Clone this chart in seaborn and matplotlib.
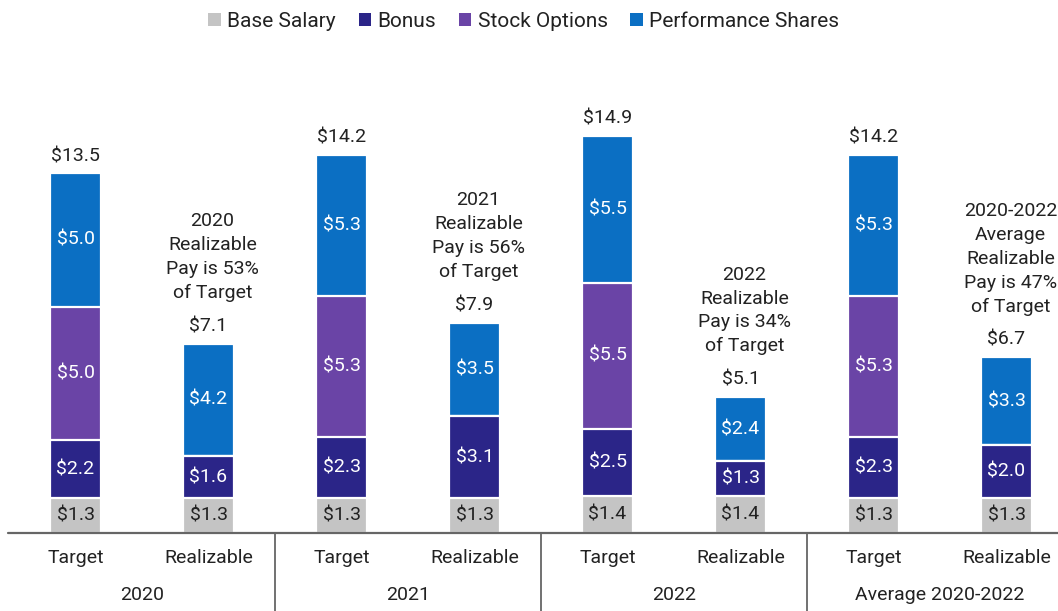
import matplotlib
matplotlib.use("Agg")
import matplotlib.pyplot as plt
import seaborn as sns
import pandas as pd
import numpy as np
from matplotlib.patches import Patch

sns.set_theme(style="white")
plt.rcParams["font.family"] = ["Roboto", "DejaVu Sans"]

# Compensation components ($M) per bar
bars = ["2020 Target", "2020 Realizable", "2021 Target", "2021 Realizable",
        "2022 Target", "2022 Realizable", "Avg Target", "Avg Realizable"]
base_salary = [1.3, 1.3, 1.3, 1.3, 1.4, 1.4, 1.3, 1.3]
bonus = [2.2, 1.6, 2.3, 3.1, 2.5, 1.3, 2.3, 2.0]
stock_options = [5.0, 0.0, 5.3, 0.0, 5.5, 0.0, 5.3, 0.0]
performance_shares = [5.0, 4.2, 5.3, 3.5, 5.5, 2.4, 5.3, 3.3]
totals = [13.5, 7.1, 14.2, 7.9, 14.9, 5.1, 14.2, 6.7]

bar_types = ["Target", "Realizable"] * 4
groups = ["2020", "2021", "2022", "Average 2020-2022"]
notes = {1: "2020\nRealizable\nPay is 53%\nof Target",
         3: "2021\nRealizable\nPay is 56%\nof Target",
         5: "2022\nRealizable\nPay is 34%\nof Target",
         7: "2020-2022\nAverage\nRealizable\nPay is 47%\nof Target"}

components = ["Base Salary", "Bonus", "Stock Options", "Performance Shares"]
colors = ["#c4c4c4", "#2b2588", "#6a44a6", "#0b6fc3"]
series = [base_salary, bonus, stock_options, performance_shares]

df = pd.DataFrame({"bar": bars})
cum = np.cumsum(np.array(series), axis=0)
for k, name in enumerate(components):
    df[name] = cum[k]

fig = plt.figure(figsize=(10.58, 6.11), dpi=100)
ax = fig.add_axes([0.0, 0.12766, 1.0, 0.80])

# Stack by overlaying cumulative heights, tallest first
for k in range(len(components) - 1, -1, -1):
    sns.barplot(data=df, x="bar", y=components[k], color=colors[k], width=0.39,
                edgecolor="white", linewidth=1.6, saturation=1, ax=ax, zorder=2)

ax.set_xlim(-0.568, 7.387)
ax.set_ylim(0, 18.35)
ax.set_xlabel("")
ax.set_ylabel("")
ax.set_xticks([])
ax.set_yticks([])
for s in ax.spines.values():
    s.set_visible(False)

txt_dark = "#222222"
fs = 14

# Segment value labels
for i in range(len(bars)):
    lower = 0.0
    for k, vals in enumerate(series):
        v = vals[i]
        if v > 0:
            ax.text(i, lower + v / 2, f"${v:.1f}", ha="center", va="center",
                    fontsize=fs, color=txt_dark if k == 0 else "white", zorder=5)
        lower += v
    top = lower
    ax.annotate(f"${totals[i]:.1f}", (i, top), xytext=(0, 12.5),
                textcoords="offset points", ha="center", va="center",
                fontsize=fs, color=txt_dark)
    if i in notes:
        ax.annotate(notes[i], (i + 0.03, top), xytext=(0, 30),
                    textcoords="offset points", ha="center", va="bottom",
                    fontsize=fs, color=txt_dark, linespacing=1.42)

# Baseline and group dividers
ax.plot([-0.508, 7.387], [0, 0], color="#666666", lw=1.6, clip_on=False, zorder=6)
for xs in [1.5, 3.5, 5.5]:
    ax.plot([xs, xs], [0, -3.0], color="#666666", lw=1.3, clip_on=False, zorder=6)

for i, t in enumerate(bar_types):
    ax.text(i, -0.93, t, ha="center", va="center", fontsize=14, color=txt_dark)
for g, name in enumerate(groups):
    ax.text(2 * g + 0.5, -2.32, name, ha="center", va="center", fontsize=14,
            color=txt_dark)

handles = [Patch(facecolor=c, edgecolor="none", label=n)
           for c, n in zip(colors, components)]
fig.legend(handles=handles, loc="center", bbox_to_anchor=(0.495, 0.965), ncol=4,
           frameon=False, fontsize=15, handlelength=0.6, handleheight=0.6,
           handletextpad=0.3, columnspacing=1.1, labelcolor=txt_dark)

fig.savefig("out.png", dpi=100)
